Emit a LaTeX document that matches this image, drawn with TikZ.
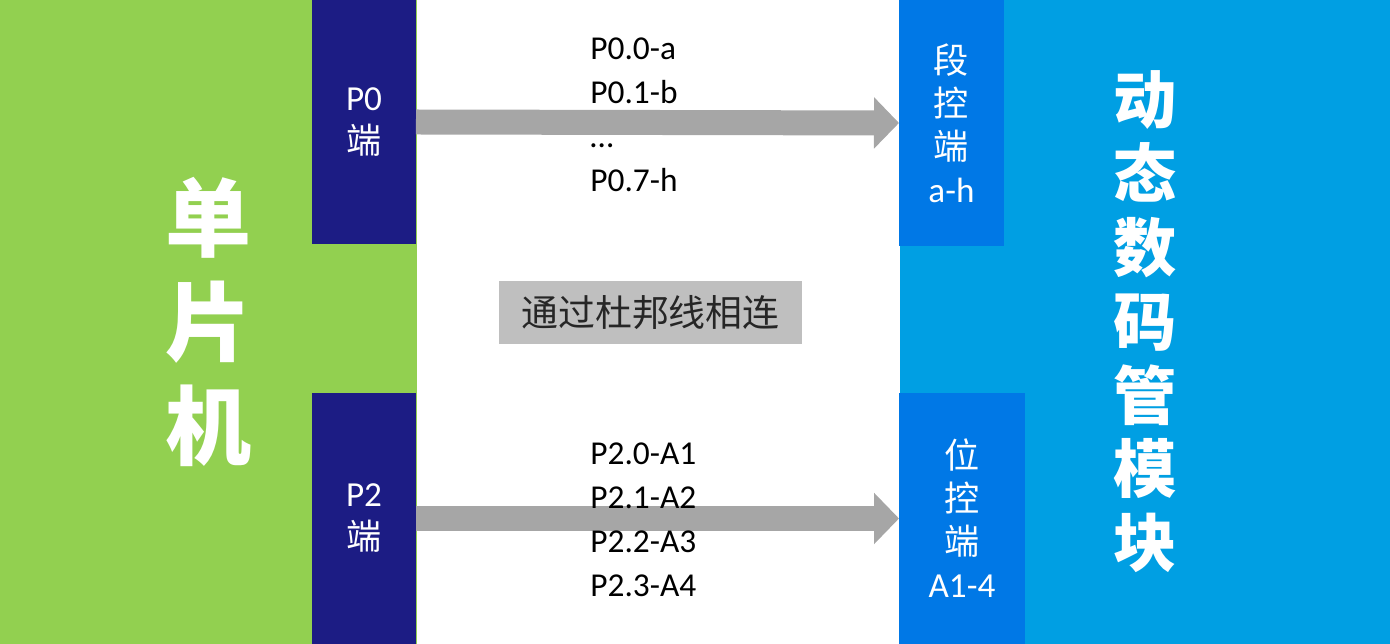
\documentclass[tikz,border=0pt]{standalone}
\usepackage{fontspec}
\setmainfont{Carlito}
\newfontfamily\cjk{Noto Sans CJK SC}
\usetikzlibrary{arrows.meta}
\definecolor{mcugreen}{HTML}{92D050}
\definecolor{portnavy}{HTML}{1C1C84}
\definecolor{ctrlblue}{HTML}{0078E6}
\definecolor{ledblue}{HTML}{009FE3}

\begin{document}
\begin{tikzpicture}[x=0.02cm,y=-0.02cm,
	block/.style={inner sep=0pt,outer sep=0pt,text=white,align=center},
	port/.style={block,fill=portnavy,minimum width=2.08cm,font=\fontsize{20}{24.5}\selectfont},
	ctrl/.style={block,fill=ctrlblue,font=\fontsize{20}{24.5}\selectfont},
	signals/.style={anchor=west,align=left,inner sep=0pt,font=\fontsize{19}{25}\selectfont},
	bus/.style={gray!70,line width=0.5cm,-{Triangle[length=0.5cm,width=1cm]}}]
				\useasboundingbox (0,0) rectangle (1390,644);
				% the two big blocks
				\node[block,fill=mcugreen,minimum width=8.34cm,minimum height=12.88cm,
					font=\cjk\bfseries\fontsize{49}{59}\selectfont] (mcu) at (208.5,322) {单\\片\\机};
				\node[block,fill=ledblue,minimum width=9.8cm,minimum height=12.88cm,
					font=\cjk\bfseries\fontsize{36}{42}\selectfont] (led) at (1145,322) {动\\态\\数\\码\\管\\模\\块};
				% the ports of the MCU
				\node[port,minimum height=4.88cm] (p0) at (364,122) {P0\\{\cjk 端}};
				\node[port,minimum height=5.02cm] (p2) at (364,518.5) {P2\\{\cjk 端}};
				% the control inputs of the display
				\node[ctrl,minimum width=2.1cm,minimum height=4.92cm] (seg) at (951.5,123) {{\cjk 段}\\{\cjk 控}\\{\cjk 端}\\a-h};
				\node[ctrl,minimum width=2.52cm,minimum height=5.02cm] (bit) at (962,518.5) {{\cjk 位}\\{\cjk 控}\\{\cjk 端}\\A1-4};
				% the wires
				\draw[bus] (p0.east) -- (seg.west);
				\draw[bus] (p2.east) -- (bit.west);
				\node[signals] (segsig) at (590,115) {P0.0-a\\P0.1-b\\…\\P0.7-h};
				\node[signals] (bitsig) at (590,520) {P2.0-A1\\P2.1-A2\\P2.2-A3\\P2.3-A4};
				\node[fill=gray!50,inner sep=0pt,minimum width=6.06cm,minimum height=1.26cm,
					text=black!85,font=\cjk\fontsize{21}{24}\selectfont] (dupont) at (650.5,312.5) {通过杜邦线相连};
			\end{tikzpicture}
\end{document}
